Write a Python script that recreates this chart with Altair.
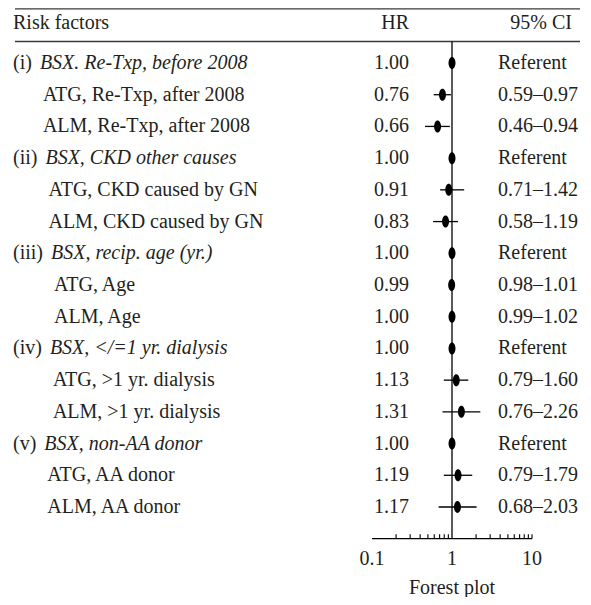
import altair as alt
import pandas as pd

# ---------------- data ----------------
section_prefix = ["(i)", "", "", "(ii)", "", "", "(iii)", "", "", "(iv)", "", "", "(v)", "", ""]
row_labels = [
    "BSX. Re-Txp, before 2008", "ATG, Re-Txp, after 2008", "ALM, Re-Txp, after 2008",
    "BSX, CKD other causes", "ATG, CKD caused by GN", "ALM, CKD caused by GN",
    "BSX, recip. age (yr.)", "ATG, Age", "ALM, Age",
    "BSX, </=1 yr. dialysis", "ATG, >1 yr. dialysis", "ALM, >1 yr. dialysis",
    "BSX, non-AA donor", "ATG, AA donor", "ALM, AA donor",
]
hr = [1.00, 0.76, 0.66, 1.00, 0.91, 0.83, 1.00, 0.99, 1.00, 1.00, 1.13, 1.31, 1.00, 1.19, 1.17]
ci_low = [None, 0.59, 0.46, None, 0.71, 0.58, None, 0.98, 0.99, None, 0.79, 0.76, None, 0.79, 0.68]
ci_high = [None, 0.97, 0.94, None, 1.42, 1.19, None, 1.01, 1.02, None, 1.60, 2.26, None, 1.79, 2.03]
major_ticks = [0.1, 1, 10]
major_tick_labels = ["0.1", "1", "10"]
minor_ticks = [0.2, 0.3, 0.4, 0.5, 0.6, 0.7, 0.8, 0.9, 2, 3, 4, 5, 6, 7, 8, 9, 10]
col_headers = ["Risk factors", "HR", "95% CI"]
x_title = "Forest plot"

# ---------------- layout helpers ----------------
FONT = "Liberation Serif"
FS = 20
INK = "#231f20"
TOP, STEP, N = 55, 31.714, len(hr)
AXIS_Y = TOP + N * STEP
glyph_w = {"(": 0.333, ")": 0.333, "i": 0.278, "v": 0.5}

rows = []
italic_x = 5
for i, (p, lab) in enumerate(zip(section_prefix, row_labels)):
    is_head = p != ""
    if is_head:
        italic_x = 5 + sum(glyph_w[c] for c in p) * FS + 8
        lx = italic_x
    else:
        lx = italic_x + 3
    lo, hi = ci_low[i], ci_high[i]
    rows.append({
        "row": i, "prefix": p, "label": lab, "head": is_head, "lx": lx,
        "hr": hr[i], "hr_txt": f"{hr[i]:.2f}",
        "lo": lo, "hi": hi,
        "ci_txt": "Referent" if lo is None else f"{lo:.2f}\u2013{hi:.2f}",
    })
df = pd.DataFrame(rows)
heads = df[df["head"]]
subs = df[~df["head"]]
ci = df[df["lo"].notna()]

xs = alt.Scale(type="log", domain=[0.1, 10], range=[364, 524])
ys = alt.Scale(domain=[0, N - 1], range=[TOP, TOP + (N - 1) * STEP])
Y = alt.Y("row:Q", scale=ys, axis=None)

def txt(**kw):
    base = dict(font=FONT, fontSize=FS, color=INK, baseline="middle")
    base.update(kw)
    return base

one = pd.DataFrame({"v": [1]})

layers = []
# header rules
layers.append(alt.Chart(one).mark_rule(color="#3a3a3a", strokeWidth=1.3).encode(
    x=alt.value(7), x2=alt.value(572), y=alt.value(0.8)))
layers.append(alt.Chart(one).mark_rule(color="#3a3a3a", strokeWidth=1.3).encode(
    x=alt.value(7), x2=alt.value(572), y=alt.value(33.5)))
# column headers
hdr = pd.DataFrame({"t": col_headers})
layers.append(alt.Chart(hdr.iloc[[0]]).mark_text(**txt(align="left")).encode(
    x=alt.value(5), y=alt.value(15), text="t:N"))
layers.append(alt.Chart(hdr.iloc[[1]]).mark_text(**txt(align="right")).encode(
    x=alt.value(401), y=alt.value(15), text="t:N"))
layers.append(alt.Chart(hdr.iloc[[2]]).mark_text(**txt(align="right")).encode(
    x=alt.value(564), y=alt.value(15), text="t:N"))
# row labels
layers.append(alt.Chart(heads).mark_text(**txt(align="left")).encode(
    x=alt.value(5), y=Y, text="prefix:N"))
layers.append(alt.Chart(heads).mark_text(**txt(align="left", fontStyle="italic")).encode(
    x=alt.X("lx:Q", scale=None), y=Y, text="label:N"))
layers.append(alt.Chart(subs).mark_text(**txt(align="left")).encode(
    x=alt.X("lx:Q", scale=None), y=Y, text="label:N"))
# HR & CI columns
layers.append(alt.Chart(df).mark_text(**txt(align="right")).encode(
    x=alt.value(401), y=Y, text="hr_txt:N"))
layers.append(alt.Chart(df).mark_text(**txt(align="left")).encode(
    x=alt.value(490), y=Y, text="ci_txt:N"))
# whiskers
layers.append(alt.Chart(ci).mark_rule(color="black", strokeWidth=1.3).encode(
    x=alt.X("lo:Q", scale=xs, axis=None), x2="hi:Q", y=Y))
# reference line at HR = 1
layers.append(alt.Chart(one).mark_rule(color="black", strokeWidth=1.3).encode(
    x=alt.X("v:Q", scale=xs, axis=None),
    y=alt.value(33.5), y2=alt.value(AXIS_Y)))
# axis line
layers.append(alt.Chart(pd.DataFrame({"a": [major_ticks[0]], "b": [major_ticks[-1]], "r": [N]}))
              .mark_rule(color="black", strokeWidth=1.3).encode(
    x=alt.X("a:Q", scale=xs, axis=None), x2="b:Q", y=alt.Y("r:Q", scale=ys, axis=None)))
# minor ticks (pointing up)
layers.append(alt.Chart(pd.DataFrame({"t": minor_ticks})).mark_rule(color="black", strokeWidth=1.1).encode(
    x=alt.X("t:Q", scale=xs, axis=None), y=alt.value(AXIS_Y - 4.5), y2=alt.value(AXIS_Y)))
# tick labels
layers.append(alt.Chart(pd.DataFrame({"t": major_ticks, "l": major_tick_labels, "r": [N] * 3}))
              .mark_text(**txt(align="center", dy=20)).encode(
    x=alt.X("t:Q", scale=xs, axis=None), y=alt.Y("r:Q", scale=ys, axis=None), text="l:N"))
# x title
layers.append(alt.Chart(pd.DataFrame({"t": [1], "l": [x_title], "r": [N]}))
              .mark_text(**txt(align="center", dy=49)).encode(
    x=alt.X("t:Q", scale=xs, axis=None), y=alt.Y("r:Q", scale=ys, axis=None), text="l:N"))
# point estimates (vertical ellipses)
ellipse = "M0,-1A0.58,1 0 1,1 0,1A0.58,1 0 1,1 0,-1Z"
layers.append(alt.Chart(df).mark_point(shape=ellipse, size=144, filled=True, color="black",
                                       opacity=1, strokeWidth=0).encode(
    x=alt.X("hr:Q", scale=xs, axis=None), y=Y))

chart = alt.layer(*layers).resolve_scale(x="independent", y="independent").properties(
    width=575, height=589, padding=0, autosize=alt.AutoSizeParams(type="none")
).configure_view(stroke=None)

chart.save("out.html", embed_options={"renderer": "svg", "actions": False})
